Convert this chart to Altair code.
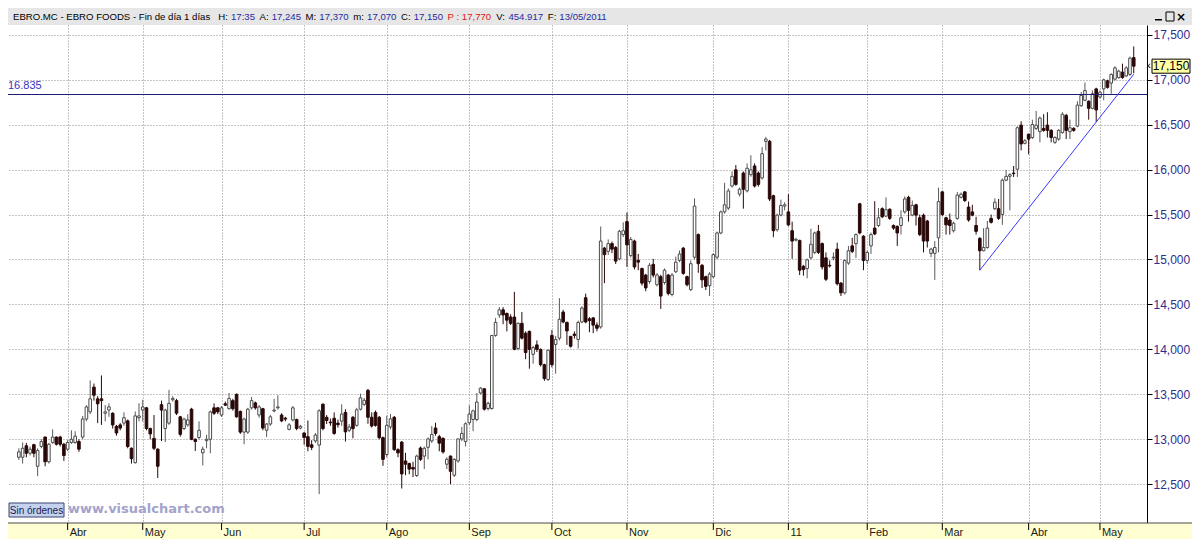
import altair as alt
import pandas as pd

# ---------------- data (OHLC per trading day) ----------------
# Mar-Jun 2010
seg_a = [
    (12800, 12900, 12770, 12860), (12800, 12964, 12730, 12900), (12928, 12960, 12800, 12845),
    (12845, 12920, 12820, 12890), (12940, 12950, 12800, 12845), (12700, 12900, 12590, 12875),
    (12920, 13000, 12900, 12975), (13025, 13030, 12700, 12750), (12750, 12960, 12730, 12945),
    (12965, 13110, 12950, 13025), (13025, 13030, 12930, 12945), (13025, 13040, 12920, 12945),
    (12945, 12960, 12760, 12820), (12890, 12990, 12870, 12965), (12965, 13100, 12950, 13000),
    (12965, 13090, 12950, 13035), (12975, 13000, 12860, 12890), (13025, 13260, 13000, 13225),
    (13225, 13380, 13200, 13360), (13305, 13655, 13280, 13450), (13580, 13620, 13430, 13490),
    (13450, 13480, 13180, 13395), (13450, 13710, 13160, 13430), (13290, 13380, 13200, 13305),
    (13325, 13400, 13250, 13360), (13290, 13300, 13120, 13160), (13145, 13160, 13040, 13070),
    (13160, 13180, 13100, 13125), (13180, 13300, 13150, 13240), (13205, 13220, 12900, 12920),
    (12900, 12910, 12730, 12785), (12740, 13310, 12730, 13260), (13240, 13400, 13200, 13260),
    (13325, 13440, 13200, 13360), (13350, 13360, 13100, 13120), (13120, 13130, 13000, 13060),
    (13010, 13270, 12880, 12900), (12890, 12900, 12570, 12700), (13385, 13430, 12980, 13325),
    (13120, 13340, 12970, 13325), (13180, 13550, 13160, 13400), (13440, 13480, 13420, 13455),
    (13430, 13450, 13270, 13290), (13250, 13260, 13030, 13055), (13120, 13240, 13100, 13225),
    (13160, 13280, 13140, 13215), (13335, 13350, 12990, 13000), (13000, 13010, 12870, 12975),
    (13020, 13200, 13000, 13100), (12850, 12920, 12710, 12890), (12985, 13050, 12900, 13000),
    (13000, 13320, 12845, 13305), (13350, 13400, 13270, 13290), (13350, 13360, 13280, 13305),
    (13270, 13370, 13250, 13350), (13395, 13420, 13370, 13380), (13340, 13515, 13330, 13455),
    (13430, 13450, 13320, 13340), (13500, 13510, 13240, 13250), (13310, 13320, 13060, 13080),
    (13080, 13240, 12945, 13225), (13080, 13350, 13060, 13335), (13350, 13470, 13330, 13430),
    (13405, 13420, 13330, 13350), (13270, 13380, 13240, 13360), (13340, 13350, 13100, 13125),
    (13100, 13180, 13025, 13170), (13170, 13270, 13150, 13250), (13315, 13450, 13300, 13325),
    (13350, 13490, 13330, 13360), (13270, 13290, 13190, 13205), (13235, 13250, 13200, 13225),
    (13110, 13180, 13100, 13160), (13215, 13370, 13200, 13350), (13220, 13230, 13100, 13120),
    (13125, 13160, 13110, 13145), (13070, 13080, 12940, 13020),
]
# Jul-Oct 2010
seg_b = [
    (13029, 13209, 12867, 12921), (12939, 12990, 12880, 12910), (12982, 13070, 12960, 13047),
    (12935, 13335, 12390, 13317), (13390, 13400, 13100, 13119), (13245, 13270, 13170, 13209),
    (13191, 13230, 13150, 13184), (13234, 13299, 13050, 13065), (13180, 13220, 13130, 13162),
    (13202, 13389, 13150, 13281), (13299, 13335, 12975, 13083), (13101, 13170, 13080, 13137),
    (13245, 13260, 13011, 13119), (13155, 13350, 13140, 13328), (13335, 13508, 13320, 13461),
    (13389, 13460, 13370, 13434), (13544, 13560, 13173, 13245), (13245, 13300, 13130, 13148),
    (13299, 13320, 13140, 13155), (13245, 13260, 13000, 13018), (13018, 13030, 12705, 12777),
    (12831, 13263, 12800, 13155), (13137, 13281, 13110, 13227), (13245, 13260, 12870, 12885),
    (12885, 12900, 12800, 12849), (12969, 12980, 12453, 12615), (12759, 12849, 12600, 12723),
    (12730, 12740, 12611, 12669), (12687, 12750, 12580, 12669), (12597, 12830, 12580, 12813),
    (12903, 12920, 12760, 12777), (12813, 12920, 12669, 12900), (12910, 13020, 12777, 13004),
    (12982, 13148, 12960, 13054), (13126, 13184, 13040, 13065), (13029, 13050, 12867, 12957),
    (13011, 13020, 12840, 12860), (12723, 12800, 12669, 12777), (12813, 12820, 12500, 12644),
    (12600, 12790, 12580, 12777), (12759, 13010, 12740, 13004), (13004, 13137, 12980, 13065),
    (12975, 13190, 12921, 13173), (13184, 13378, 13160, 13281), (13220, 13330, 13090, 13317),
    (13220, 13515, 13200, 13414), (13515, 13580, 13500, 13569), (13562, 13570, 13320, 13335),
    (13342, 13420, 13320, 13400), (13342, 14160, 13330, 14155), (14155, 14350, 14140, 14300),
    (14383, 14470, 14350, 14440), (14440, 14470, 14280, 14383), (14400, 14410, 14200, 14325),
    (14360, 14390, 14270, 14290), (14360, 14640, 13990, 14000), (14010, 14300, 13990, 14290),
    (14290, 14415, 14110, 14125), (14180, 14200, 13890, 13965), (14200, 14210, 13785, 14000),
    (13945, 14040, 13840, 14020), (14050, 14100, 13970, 14000), (14000, 14010, 13810, 13830),
    (13830, 13840, 13650, 13675), (13665, 14000, 13650, 13990), (14155, 14215, 13800, 13830),
    (14055, 14150, 13730, 14110), (14125, 14570, 14100, 14335), (14415, 14440, 14290, 14305),
    (14300, 14310, 14050, 14205), (14145, 14150, 14020, 14035), (14170, 14200, 14120, 14155),
    (14110, 14320, 14010, 14300), (14305, 14480, 14290, 14460), (14575, 14620, 14290, 14305),
    (14340, 14360, 14190, 14320), (14350, 14360, 14180, 14270), (14270, 14300, 14200, 14235),
]
# Oct 2010 - Feb 2011
seg_c = [
    (14250, 15367, 14230, 15205), (15126, 15140, 14737, 15054), (15090, 15223, 15050, 15176),
    (15176, 15200, 15070, 15115), (15133, 15150, 14950, 14982), (15007, 15330, 14990, 15313),
    (15277, 15414, 15250, 15320), (15421, 15522, 14917, 15162), (15043, 15250, 15020, 15223),
    (15205, 15220, 14890, 14917), (14989, 15061, 14881, 14971), (14899, 14910, 14710, 14737),
    (14827, 14840, 14647, 14683), (14755, 14960, 14730, 14935), (14946, 15007, 14800, 14827),
    (14719, 14850, 14700, 14827), (14809, 14830, 14450, 14593), (14744, 14900, 14720, 14881),
    (14827, 14840, 14600, 14622), (14611, 14850, 14590, 14827), (14863, 15032, 14850, 14971),
    (14990, 15100, 14970, 15061), (15126, 15140, 14830, 14845), (14809, 14820, 14700, 14719),
    (14665, 14990, 14650, 14953), (15025, 15680, 15000, 15594), (15277, 15290, 14852, 14953),
    (14935, 14950, 14683, 14773), (14809, 14820, 14660, 14701), (14708, 14860, 14593, 14838),
    (14809, 15070, 14790, 15054), (15025, 15310, 15000, 15295), (15295, 15545, 15280, 15529),
    (15529, 15853, 15510, 15608), (15572, 15790, 15550, 15763), (15817, 15980, 15800, 15925),
    (15997, 16050, 15820, 15835), (15727, 15800, 15700, 15781), (15961, 15980, 15565, 15781),
    (15763, 16069, 15745, 16015), (15943, 16159, 15920, 15997), (16040, 16069, 15800, 15817),
    (15961, 15980, 15810, 15835), (15907, 16249, 15890, 16177), (16314, 16364, 16213, 16339),
    (16314, 16330, 15650, 15673), (15709, 15720, 15248, 15320), (15331, 15510, 15310, 15493),
    (15493, 15666, 15480, 15601), (15594, 15637, 15547, 15608), (15529, 15727, 15370, 15385),
    (15320, 15421, 15007, 15205), (15215, 15240, 15200, 15225), (15212, 15220, 14827, 14881),
    (14924, 14940, 14820, 14888), (14899, 15010, 14791, 14996), (15018, 15342, 15000, 15169),
    (15079, 15310, 15060, 15295), (15313, 15385, 15060, 15079), (15176, 15190, 14888, 14917),
    (15018, 15079, 14760, 14780), (14935, 14989, 14910, 14928), (15018, 15079, 14990, 15025),
    (15115, 15187, 14710, 14730), (14737, 14750, 14593, 14629), (14629, 15000, 14610, 14989),
    (14960, 15151, 14940, 15097), (15151, 15241, 15070, 15090), (15176, 15290, 15018, 15277),
    (15619, 15630, 15280, 15295), (15259, 15270, 14881, 14989), (14989, 15100, 14953, 15079),
    (15151, 15300, 15061, 15277), (15349, 15648, 15270, 15284), (15378, 15572, 15360, 15464),
]
# Feb - May 2011
seg_d = [
    (15565, 15580, 15460, 15475), (15482, 15691, 15470, 15554), (15558, 15570, 15440, 15457),
    (15378, 15390, 15330, 15349), (15367, 15380, 15151, 15295), (15378, 15547, 15277, 15464),
    (15529, 15702, 15510, 15673), (15691, 15709, 15421, 15547), (15493, 15655, 15480, 15601),
    (15608, 15620, 15378, 15493), (15464, 15500, 15260, 15277), (15493, 15510, 15079, 15205),
    (15428, 15440, 15133, 15205), (15068, 15130, 15025, 15115), (15068, 15205, 14773, 15133),
    (15241, 15799, 15079, 15644), (15752, 15760, 15480, 15500), (15464, 15475, 15277, 15385),
    (15439, 15511, 15277, 15378), (15320, 15420, 15300, 15403), (15457, 15752, 15440, 15716),
    (15691, 15745, 15680, 15727), (15752, 15760, 15640, 15655), (15583, 15644, 15420, 15439),
    (15529, 15608, 15480, 15493), (15378, 15475, 15277, 15313), (15234, 15250, 14881, 15097),
    (15097, 15349, 15090, 15133), (15133, 15428, 15120, 15349), (15457, 15500, 15400, 15414),
    (15565, 15680, 15550, 15637), (15565, 15673, 15440, 15457), (15500, 15900, 15385, 15882),
    (15882, 15997, 15870, 15925), (15925, 15960, 15547, 15943), (15961, 16040, 15918, 15955),
    (16004, 16480, 15918, 16465), (16494, 16537, 16213, 16285), (16292, 16340, 16280, 16321),
    (16393, 16400, 16170, 16339), (16357, 16555, 16340, 16501), (16458, 16652, 16440, 16494),
    (16422, 16590, 16303, 16573), (16458, 16616, 16420, 16436), (16494, 16638, 16357, 16436),
    (16436, 16450, 16303, 16357), (16303, 16370, 16285, 16357), (16339, 16450, 16320, 16436),
    (16411, 16638, 16400, 16616), (16602, 16620, 16339, 16436), (16422, 16555, 16339, 16465),
    (16458, 16472, 16420, 16436), (16483, 16760, 16470, 16717), (16710, 16861, 16700, 16825),
    (16771, 16969, 16760, 16879), (16760, 16770, 16555, 16681), (16681, 16879, 16670, 16843),
    (16897, 16910, 16530, 16663), (16807, 16880, 16790, 16861), (16897, 17012, 16771, 16998),
    (16987, 17000, 16900, 16915), (16962, 17070, 16843, 17059), (17005, 17149, 16990, 17131),
    (17023, 17110, 17010, 17095), (17084, 17178, 17010, 17023), (17041, 17150, 17030, 17131),
    (17059, 17257, 17041, 17239), (17245, 17370, 17070, 17150),
]

month_labels = ["Abr", "May", "Jun", "Jul", "Ago", "Sep", "Oct", "Nov", "Dic", "11", "Feb", "Mar", "Abr", "May"]
month_index = [13, 33, 54, 76, 98, 120, 142, 162, 185, 205, 226, 246, 269, 288]
price_ticks = [12500, 13000, 13500, 14000, 14500, 15000, 15500, 16000, 16500, 17000, 17500]
level_value = 16835
level_label = "16.835"
trend_index = [256, 297]
trend_price = [14881, 17060]

header_title = "EBRO.MC - EBRO FOODS - Fin de día 1 días"
header_time = "17:35"
header_prev = "P : 17,770"
header_volume = "454.917"
header_date = "13/05/2011"

# ---------------- build table ----------------
rows = seg_a + seg_b + seg_c + seg_d
N = len(rows)
df = pd.DataFrame(rows, columns=["o", "h", "l", "c"])
df["i"] = range(N)
df["top"] = df[["o", "c"]].max(axis=1)
df["bot"] = df[["o", "c"]].min(axis=1)
df["up"] = df["c"] >= df["o"]

FONT = "Liberation Sans"
W, H = 1139, 498
RIGHT, TOP, BOTTOM = 45, 17, 16

XS = alt.Scale(domain=[-1.56, 299.2], nice=False, zero=False)
YS = alt.Scale(domain=[12069, 17608], nice=False, zero=False)
X_AX = alt.Axis(values=month_index, grid=True, gridDash=[1, 2], gridColor="#8a8a8a",
                labels=False, ticks=False, domain=False, title=None)
Y_AX = alt.Axis(orient="right", values=price_ticks, format=",d", grid=True, gridDash=[1, 2],
                gridColor="#8a8a8a", tickSize=5, tickColor="#000000", domainColor="#000000",
                labelColor="#2e2e8e", labelFont=FONT, labelFontSize=12, labelPadding=1,
                labelOverlap=False, title=None)


def xe(f):
    return alt.X(f, type="quantitative", scale=XS, axis=X_AX)


def ye(f):
    return alt.Y(f, type="quantitative", scale=YS, axis=Y_AX)


one = alt.Data(values=[{"k": 1}])


def txt(t, x, y, color="#000000", size=11, weight="normal", align="left", font=FONT, baseline="middle"):
    return alt.Chart(one).mark_text(text=t, align=align, baseline=baseline, color=color,
                                    fontSize=size, fontWeight=weight, font=font).encode(
        x=alt.value(x), y=alt.value(y))


def box(x, x2, y, y2, fill, stroke=None):
    kw = dict(fill=fill)
    if stroke:
        kw.update(stroke=stroke, strokeWidth=1)
    return alt.Chart(one).mark_rect(**kw).encode(
        x=alt.value(x), x2=alt.value(x2), y=alt.value(y), y2=alt.value(y2))


header_bg = box(0, W + RIGHT, -TOP, 0, "#e6e6e6")
band_bg = box(0, W + RIGHT, H, H + BOTTOM, "#ffffd2")
band_line = alt.Chart(one).mark_rule(color="#4a4a4a", strokeWidth=1).encode(
    x=alt.value(0), x2=alt.value(W + RIGHT), y=alt.value(H))

base = alt.Chart(df)
DOWN = "#2a0808"
wicks = base.mark_rule(strokeWidth=1).encode(
    x=xe("i"), y=ye("l"), y2="h",
    color=alt.condition("datum.up", alt.value("#5a5a5a"), alt.value(DOWN)))
bodies = base.mark_bar(size=2.6, strokeWidth=1).encode(
    x=xe("i"), y=ye("bot"), y2="top",
    fill=alt.condition("datum.up", alt.value("#ffffff"), alt.value(DOWN)),
    stroke=alt.condition("datum.up", alt.value("#4a4a4a"), alt.value(DOWN)))

lvl = pd.DataFrame({"v": [level_value], "t": [level_label]})
level_rule = alt.Chart(lvl).mark_rule(color="#1c1c78", strokeWidth=1.2).encode(
    y=ye("v"), x=alt.value(0), x2=alt.value(W))
level_text = alt.Chart(lvl).mark_text(align="left", baseline="middle", dy=-8, color="#3434c0",
                                      fontSize=11, font=FONT).encode(
    y=ye("v"), x=alt.value(0), text="t:N")

trend_df = pd.DataFrame({"i": trend_index, "p": trend_price})
trend = alt.Chart(trend_df).mark_line(color="#3838ff", strokeWidth=1).encode(x=xe("i"), y=ye("p"))

mdf = pd.DataFrame({"i": month_index, "m": month_labels})
month_ticks = alt.Chart(mdf).mark_rule(color="#000000", strokeWidth=1).encode(
    x=xe("i"), y=alt.value(H), y2=alt.value(H + 7))
month_text = alt.Chart(mdf).mark_text(align="left", baseline="top", dx=2, fontSize=11, font=FONT,
                                      color="#1a1a1a").encode(
    x=xe("i"), y=alt.value(H + 4), text="m:N")

last = pd.DataFrame({"p": [rows[-1][3]]})
last["t"] = last["p"].map(lambda v: f"{v:,}")
last_box = alt.Chart(last).mark_point(
    shape="M-1,-0.37L1,-0.37L1,0.37L-1,0.37Z", size=38 * 38, filled=True, fill="#ffffa6",
    stroke="#000000", strokeWidth=1, opacity=1).encode(x=alt.value(W + 24), y=ye("p"))
last_text = alt.Chart(last).mark_text(align="center", baseline="middle", fontSize=12, font=FONT,
                                      color="#000000").encode(
    x=alt.value(W + 24), y=ye("p"), text="t:N")
last_arrow = alt.Chart(last).mark_text(text="‹", align="center", baseline="middle", fontSize=11,
                                       font=FONT, color="#000000").encode(
    x=alt.value(W + 2), y=ye("p"))

watermark = txt("www.visualchart.com", 60, 484, color="#a3a3cc", size=13, weight="bold", font="DejaVu Sans")
sin_box = box(1, 56, 478, 492, "#c4d2ee", stroke="#3c4470")
sin_text = txt("Sin órdenes", 28.5, 485.5, color="#1a1a50", size=10, align="center")

# ---------------- header line: label/value pairs laid out left to right ----------------
o_last, h_last, l_last, c_last = rows[-1]
BLUE, RED, BLACK = "#2929a3", "#e01818", "#000000"
pairs = [
    [(header_title, BLACK)],
    [("H:", BLACK), (header_time, BLUE)],
    [("A:", BLACK), (f"{o_last:,}", BLUE)],
    [("M:", BLACK), (f"{h_last:,}", BLUE)],
    [("m:", BLACK), (f"{l_last:,}", BLUE)],
    [("C:", BLACK), (f"{c_last:,}", BLUE)],
    [(header_prev, RED)],
    [("V:", BLACK), (header_volume, BLUE)],
    [("F:", BLACK), (header_date, BLUE)],
]
CW = {c: 0.556 for c in "0123456789adenu"}
CW.update({" ": .278, ",": .278, ".": .278, ":": .278, "/": .278, "-": .333, "i": .222, "í": .278,
           "s": .5, "m": .833, "E": .667, "B": .667, "R": .722, "O": .778, "M": .833, "C": .722,
           "F": .611, "D": .722, "S": .667, "H": .722, "A": .667, "P": .667, "V": .667})
HFS = 9.6


def tw(s):
    return sum(CW.get(ch, 0.556) for ch in s) * HFS * 1.02


start, end = 5, 583
inner_gap = 0.3 * HFS
natural = sum(tw(t) for p in pairs for t, _ in p) + sum(inner_gap * (len(p) - 1) for p in pairs)
pair_gap = max(4.0, (end - start - natural) / (len(pairs) - 1))
header_texts = []
xpos = start
for p in pairs:
    for k, (t, col) in enumerate(p):
        header_texts.append(txt(t, xpos, -8.5, color=col, size=HFS))
        xpos += tw(t) + (inner_gap if k < len(p) - 1 else 0)
    xpos += pair_gap

buttons = [box(W + 8, W + 15, -6, -4.5, "#000000"),
           box(W + 19, W + 27, -13, -4, "#e6e6e6", stroke="#000000"),
           txt("×", W + 34, -8.5, size=12, weight="bold", align="center", font="DejaVu Sans")]

chart = alt.layer(
    header_bg, band_bg, wicks, bodies, level_rule, level_text, trend,
    band_line, month_ticks, month_text, last_box, last_arrow, last_text,
    sin_box, sin_text, watermark, *header_texts, *buttons,
).properties(
    width=W, height=H,
    padding={"left": 0, "top": TOP, "right": RIGHT, "bottom": BOTTOM},
    autosize=alt.AutoSizeParams(type="none"),
    background="#ffffff",
).configure_view(stroke=None)

chart.save("out.html", embed_options={"renderer": "svg", "actions": False})
